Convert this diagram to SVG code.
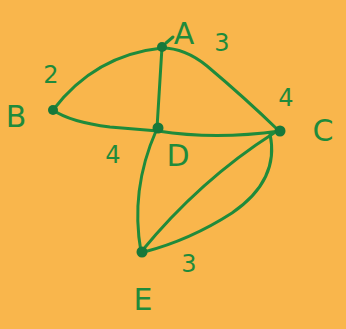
<svg xmlns="http://www.w3.org/2000/svg" width="346" height="329" viewBox="0 0 346 329">
<style>
.e{fill:none;stroke:#1f8b3b;stroke-width:3;stroke-linecap:round}
.n{fill:#17783a}
.t{fill:#1f8b3b;font-family:"DejaVu Sans",sans-serif;text-anchor:middle}
.L{font-size:30px}
.w{font-size:24px}
</style>
<rect width="346" height="329" fill="#f9b64c"/>
<g id="edges">
<path class="e" d="M162,48 Q95,55 53,110"/>
<path class="e" d="M162,48 Q185,48 207,66 Q245,98 278,130"/>
<path class="e" d="M162,47 L157,128"/>
<path class="e" d="M53,110 Q70,122 110,127 L158,131"/>
<path class="e" d="M158,131 Q215,140 280,131"/>
<path class="e" d="M156,131 Q130,190 141,252"/>
<path class="e" d="M274,133 Q200,180 141,252"/>
<path class="e" d="M270,134 Q280,180 232,213 Q190,240 144,252"/>
<path class="e" d="M166,43 L173,37"/>
</g>
<g id="A"><circle class="n" cx="162" cy="47" r="5"/><text class="t L" x="184" y="44">A</text><text class="t w" x="222" y="51">3</text></g>
<g id="B"><circle class="n" cx="53" cy="110" r="5"/><text class="t L" x="16" y="127">B</text><text class="t w" x="51" y="83">2</text></g>
<g id="C"><circle class="n" cx="280" cy="131" r="5.5"/><text class="t L" x="323" y="141">C</text><text class="t w" x="286" y="106">4</text></g>
<g id="D"><circle class="n" cx="158" cy="128" r="5.5"/><text class="t L" x="178" y="166">D</text><text class="t w" x="113" y="163">4</text></g>
<g id="E"><circle class="n" cx="142" cy="252" r="5.5"/><text class="t L" x="143" y="310">E</text><text class="t w" x="189" y="272">3</text></g>
</svg>
